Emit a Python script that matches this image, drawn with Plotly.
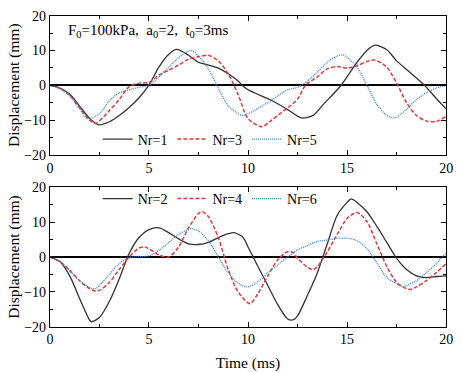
import plotly.graph_objects as go

# ---------------- data ----------------
t_nr1 = [0, 0.5, 1, 1.5, 2, 2.45, 3, 3.5, 4, 4.5, 5, 5.5, 6, 6.4, 7, 7.5, 8, 8.5, 9, 9.5, 9.7,
         10, 11.2, 12, 12.7, 13.3, 13.8, 14.7, 15.5, 16, 16.4, 17, 17.5, 18, 18.9, 19.5, 20]
v_nr1 = [0, -0.8, -2.5, -6, -9.5, -11.4, -10.5, -8.7, -6.4, -3.6, 0, 5.2, 8.9, 10.3, 8.6, 6.6, 5.8, 4.9, 3.3, 1.2, 0,
         -1.3, -4.4, -7, -9.4, -8.6, -5.5, 0, 6.6, 10, 11.5, 10.2, 7, 4.5, 0, -3.8, -6.8]

t_nr3 = [0, 0.5, 1, 1.5, 2, 2.3, 3, 3.5, 4, 4.5, 5, 5.5, 6, 6.5, 7, 7.5, 8, 8.5, 9, 9.5, 10,
         10.7, 11.2, 12, 12.5, 12.9, 13.5, 14, 14.5, 15, 15.5, 16, 16.4, 17, 17.5, 18, 18.5, 19, 19.5, 20]
v_nr3 = [0, -0.9, -2.9, -6.5, -10, -11, -7.3, -4.1, -0.4, 0.6, 0.8, 2.9, 4.3, 5.8, 7.5, 8.2, 8.6, 7, 3.3, -2.7, -9.6,
         -11.9, -10, -6.5, -4, 0, 2.4, 4.7, 5.4, 4.9, 5.6, 6.8, 7.2, 5.2, 0.6, -5, -8.7, -10.3, -10.4, -9]

t_nr5 = [0, 0.5, 1, 1.5, 1.9, 2.5, 3, 3.5, 4, 4.5, 5, 5.5, 6, 6.5, 7.1, 7.5, 8, 8.5, 9, 9.5, 9.75,
         10, 11, 12, 12.5, 13, 13.5, 14, 14.5, 14.8, 15, 15.5, 16, 16.5, 17, 17.3, 17.5, 18, 18.5, 19, 19.5, 20]
v_nr5 = [0, -1, -3.1, -6.8, -9.6, -8.2, -4.5, -2.2, -1.3, -0.6, 0, 2.4, 5.2, 7.9, 10, 8.4, 4.7, -0.8, -5.9, -8.2, -8.7,
         -8.2, -5, -1.3, -0.6, 1.2, 3.8, 6.6, 8.4, 8.7, 8, 5.2, 0, -5.5, -8.7, -9.4, -9.2, -6.9, -4.1, -2.2, -0.8, 0]

t_nr2 = [0, 0.5, 1, 1.5, 2, 2.1, 2.5, 3, 3.5, 4, 4.5, 5, 5.5, 6, 6.5, 7, 7.5, 8, 8.5, 9, 9.3, 9.75,
         10, 10.5, 11, 11.5, 12, 12.3, 12.5, 13, 13.5, 14, 14.5, 15, 15.2, 15.5, 16, 16.5, 17, 17.5, 18, 18.5, 19, 19.5, 20]
v_nr2 = [0, -1.3, -5.4, -11.9, -18.1, -18.6, -17.4, -12.8, -6.3, 1, 5.6, 7.9, 8.4, 7, 5.2, 3.8, 3.6, 4.2, 5.6, 6.7, 7, 5.6,
         2.9, -2.7, -8.2, -13.7, -17.8, -18, -16.9, -11, -4.5, 3.8, 12, 15.7, 16.7, 15.7, 13, 8.8, 4.2, -0.4, -3.6, -5.4, -5.9, -5.6, -5.4]

t_nr4 = [0, 0.5, 1, 1.5, 2, 2.3, 2.5, 3, 3.5, 4, 4.5, 4.8, 5, 5.5, 6, 6.5, 7, 7.5, 7.7, 8, 8.5, 9, 9.5,
         10.1, 10.5, 11, 11.5, 12, 12.3, 12.5, 13, 13.3, 13.5, 14, 14.5, 15, 15.5, 16, 16.5, 17, 17.5, 18, 18.2, 18.5, 19, 19.5, 20]
v_nr4 = [0, -1.3, -3.8, -6.8, -9.1, -9.8, -9.6, -7.3, -3.6, 0, 2.6, 2.9, 2.4, 0.6, 0, 2.9, 8.4, 12.5, 13, 11.6, 5.6, -3.6, -10,
         -13.4, -10.5, -5.4, -0.8, 1.5, 1.2, -0.4, -2.9, -3.6, -2.7, 1.5, 6.5, 11.1, 12.8, 10.2, 3.8, -2.7, -7.3, -9.1, -9.3, -8.6, -6.8, -4.5, -1.9]

t_nr6 = [0, 0.5, 1, 1.5, 2, 2.3, 2.5, 3, 3.5, 4, 4.5, 5, 5.5, 6, 6.5, 7, 7.2, 7.5, 8, 8.5, 9, 9.5, 9.95,
         10.5, 11, 11.5, 12, 12.5, 13, 13.5, 14, 14.5, 15, 15.5, 16, 16.5, 17, 17.5, 17.8, 18, 18.5, 19, 19.5, 20]
v_nr6 = [0, -1.3, -4, -6.8, -8.8, -9.1, -8.2, -5, -1.9, -0.2, 0.1, 0.3, 1.9, 4.2, 6.5, 7.9, 8.1, 7.5, 4.7, 0.1, -4.5, -7.5, -8.6,
         -7.1, -4.5, -2.2, 0, 2.1, 3.3, 4.5, 4.9, 5.4, 5.4, 4.7, 2.4, -1.7, -5.9, -7.7, -8.5, -8.2, -6.8, -4.5, -1.9, 1.2]

x_ticks = [0, 5, 10, 15, 20]
y_ticks = [-20, -10, 0, 10, 20]

names_top = ["Nr=1", "Nr=3", "Nr=5"]
names_bot = ["Nr=2", "Nr=4", "Nr=6"]

# ---------------- styling ----------------
FONT = "Liberation Serif"
BLACK = "#333333"
RED = "#e0393e"
BLUE = "#3b7fcc"
styles = [dict(color=BLACK, width=1.3, dash="solid"),
          dict(color=RED, width=1.5, dash="4px,2px"),
          dict(color=BLUE, width=1.3, dash="1px,1px")]

fig = go.Figure()

top = [(t_nr1, v_nr1), (t_nr3, v_nr3), (t_nr5, v_nr5)]
bot = [(t_nr2, v_nr2), (t_nr4, v_nr4), (t_nr6, v_nr6)]

for (t, v), name, st in zip(top, names_top, styles):
    fig.add_trace(go.Scatter(x=t, y=v, mode="lines", name=name, line=dict(shape="spline", smoothing=0.8, **st),
                             xaxis="x", yaxis="y", legend="legend"))
for (t, v), name, st in zip(bot, names_bot, styles):
    fig.add_trace(go.Scatter(x=t, y=v, mode="lines", name=name, line=dict(shape="spline", smoothing=0.8, **st),
                             xaxis="x2", yaxis="y2", legend="legend2"))

W, H = 461, 373
xdom = [47 / W, 453 / W]
ydom_top = [1 - 154 / H, 1 - 9 / H]
ydom_bot = [1 - 333 / H, 1 - 188 / H]

common_x = dict(range=[0, 20], tickvals=x_ticks, ticks="inside", ticklen=5, tickcolor="black",
                showline=True, linecolor="black", linewidth=1, mirror="ticks", showgrid=False, zeroline=False,
                tickfont=dict(family=FONT, size=14, color="black"), ticklabeloverflow="allow",
                minor=dict(ticks="inside", dtick=2.5, ticklen=3, tickcolor="black", showgrid=False))
common_y = dict(range=[-20, 20], tickvals=y_ticks, ticks="inside", ticklen=5, tickcolor="black",
                showline=True, linecolor="black", linewidth=1, mirror="ticks", showgrid=False,
                zeroline=True, zerolinecolor="black", zerolinewidth=1.6,
                tickfont=dict(family=FONT, size=14, color="black"), ticklabeloverflow="allow",
                minor=dict(ticks="inside", dtick=5, ticklen=3, tickcolor="black", showgrid=False),
                title=dict(text="Displacement (mm)", font=dict(family=FONT, size=15.5, color="black"), standoff=0))

fig.update_layout(
    width=W, height=H,
    margin=dict(l=0, r=0, t=0, b=0),
    paper_bgcolor="white", plot_bgcolor="white",
    font=dict(family=FONT, color="black", size=14),
    xaxis=dict(domain=xdom, anchor="y", **common_x),
    yaxis=dict(domain=ydom_top, anchor="x", **common_y),
    xaxis2=dict(domain=xdom, anchor="y2", title=dict(text="Time (ms)", font=dict(family=FONT, size=15.5, color="black"), standoff=10),
                **common_x),
    yaxis2=dict(domain=ydom_bot, anchor="x2", **common_y),
    legend=dict(orientation="h", x=96 / W, y=1 - 138 / H, xanchor="left", yanchor="middle",
                bgcolor="rgba(0,0,0,0)", font=dict(family=FONT, size=14, color="black"),
                itemwidth=30, tracegroupgap=0),
    legend2=dict(orientation="h", x=96 / W, y=1 - 200 / H, xanchor="left", yanchor="middle",
                 bgcolor="rgba(0,0,0,0)", font=dict(family=FONT, size=14, color="black"),
                 itemwidth=30, tracegroupgap=0),
    showlegend=True,
    annotations=[dict(text="F<sub>0</sub>=100kPa,  a<sub>0</sub>=2,  t<sub>0</sub>=3ms",
                      x=64 / W, y=1 - 25 / H, xref="paper", yref="paper", xanchor="left", yanchor="middle",
                      showarrow=False, font=dict(family=FONT, size=15, color="black"))],
)

fig.write_html("out.html", config={"displayModeBar": False},
               post_script="document.body.style.margin='0';")
